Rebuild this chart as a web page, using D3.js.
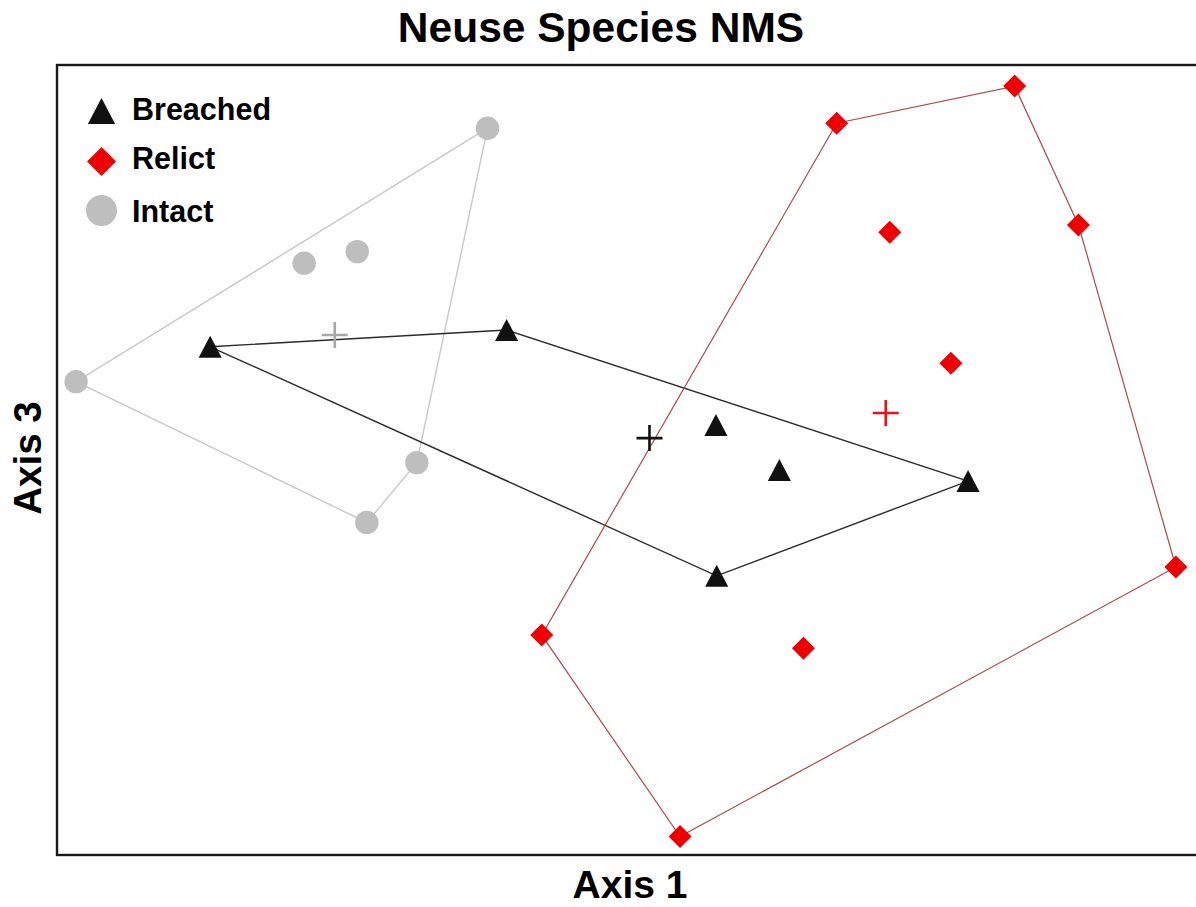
<!DOCTYPE html>
<html>
<head>
<meta charset="utf-8">
<script src="https://cdn.jsdelivr.net/npm/d3@7"></script>
<style>
  html, body { margin: 0; padding: 0; background: #fff; }
  svg { display: block; }
  text { font-family: "Liberation Sans", Arial, Helvetica, sans-serif; font-weight: bold; fill: #000; }
</style>
</head>
<body>
<svg id="chart" width="1196" height="907"></svg>
<script>
// ---- Data (NMS scores, Axis 1 vs Axis 3) ----
const intactX   = [-0.373, -0.853, -0.714, -1.450, -0.558, -0.689];
const intactY   = [ 1.008,  0.598,  0.633,  0.238, -0.008, -0.190];
const breachedX = [-1.099, -0.323,  0.225,  0.391,  0.885,  0.227];
const breachedY = [ 0.344,  0.395,  0.106, -0.030, -0.064, -0.352];
const relictX   = [ 0.541,  1.007,  1.174,  0.680,  0.840,  1.429, -0.231,  0.454,  0.131];
const relictY   = [ 1.023,  1.136,  0.714,  0.692,  0.294, -0.325, -0.532, -0.572, -1.144];
const groupNames = ["Breached", "Relict", "Intact"];
const titleText = "Neuse Species NMS";
const xLabel = "Axis 1";
const yLabel = "Axis 3";

(function () {
// ---- Layout ----
const svg = d3.select("#chart");
const pLeft = 57, pRight = 1203, pTop = 65, pBottom = 855;
const x = d3.scaleLinear().domain([-1.5, 1.5]).range([pLeft, pRight]);
const y = d3.scaleLinear().domain([-1.2, 1.2]).range([pBottom, pTop]);

const groups = [
  { name: "Intact",   xs: intactX,   ys: intactY,   hull: "#c8c8c8", hullW: 1.4, cross: "#a8a8a8", shape: "circle",   fill: "#bebebe" },
  { name: "Breached", xs: breachedX, ys: breachedY, hull: "#2a2a2a", hullW: 1.4, cross: "#111111", shape: "triangle", fill: "#111111" },
  { name: "Relict",   xs: relictX,   ys: relictY,   hull: "#b04848", hullW: 1.2, cross: "#ee1111", shape: "diamond",  fill: "#ee0000" }
];

function shapePath(shape, s) {
  if (shape === "triangle") {
    return `M0,${-s}L${s*1.05},${s}L${-s*1.05},${s}Z`;
  }
  if (shape === "diamond") {
    return `M0,${-s}L${s},0L0,${s}L${-s},0Z`;
  }
  return null;
}

const plot = svg.append("g");

// hulls
groups.forEach(g => {
  const pts = g.xs.map((v, i) => [x(v), y(g.ys[i])]);
  const hull = d3.polygonHull(pts);
  plot.append("path")
    .attr("d", "M" + hull.map(p => p.join(",")).join("L") + "Z")
    .attr("fill", "none")
    .attr("stroke", g.hull)
    .attr("stroke-width", g.hullW);
});

// points
groups.forEach(g => {
  g.xs.forEach((v, i) => {
    const px = x(v), py = y(g.ys[i]);
    if (g.shape === "circle") {
      plot.append("circle").attr("cx", px).attr("cy", py).attr("r", 11.7).attr("fill", g.fill);
    } else {
      plot.append("path")
        .attr("transform", `translate(${px},${py})`)
        .attr("d", shapePath(g.shape, g.shape === "triangle" ? 11 : 11.5))
        .attr("fill", g.fill);
    }
  });
});

// centroids
groups.forEach(g => {
  const cx = x(d3.mean(g.xs)), cy = y(d3.mean(g.ys));
  const a = 13;
  plot.append("path")
    .attr("d", `M${cx - a},${cy}H${cx + a}M${cx},${cy - a}V${cy + a}`)
    .attr("stroke", g.cross)
    .attr("stroke-width", 2.6)
    .attr("fill", "none");
});

// frame
svg.append("rect")
  .attr("x", pLeft).attr("y", pTop)
  .attr("width", pRight - pLeft).attr("height", pBottom - pTop)
  .attr("fill", "none").attr("stroke", "#1a1a1a").attr("stroke-width", 2.4);

// title & axis labels
svg.append("text").attr("x", 601).attr("y", 42).attr("text-anchor", "middle")
  .style("font-size", "42.5px").text(titleText);
svg.append("text").attr("x", 630).attr("y", 898).attr("text-anchor", "middle")
  .style("font-size", "39px").text(xLabel);
svg.append("text").attr("transform", "translate(41,458) rotate(-90)").attr("text-anchor", "middle")
  .style("font-size", "38.5px").text(yLabel);

// legend
const legendStyle = {
  Breached: { shape: "triangle", fill: "#111111", cy: 111, base: 120 },
  Relict:   { shape: "diamond",  fill: "#ee0000", cy: 161.5, base: 169 },
  Intact:   { shape: "circle",   fill: "#bebebe", cy: 210.5, base: 221.5 }
};
const leg = svg.append("g");
groupNames.forEach(n => {
  const st = legendStyle[n];
  if (st.shape === "circle") {
    leg.append("circle").attr("cx", 101.5).attr("cy", st.cy).attr("r", 15.5).attr("fill", st.fill);
  } else {
    leg.append("path")
      .attr("transform", `translate(101.5,${st.cy})`)
      .attr("d", shapePath(st.shape, st.shape === "triangle" ? 13 : 14.5))
      .attr("fill", st.fill);
  }
  leg.append("text").attr("x", 132).attr("y", st.base).style("font-size", "30.5px").text(n);
});
})();
</script>
</body>
</html>
